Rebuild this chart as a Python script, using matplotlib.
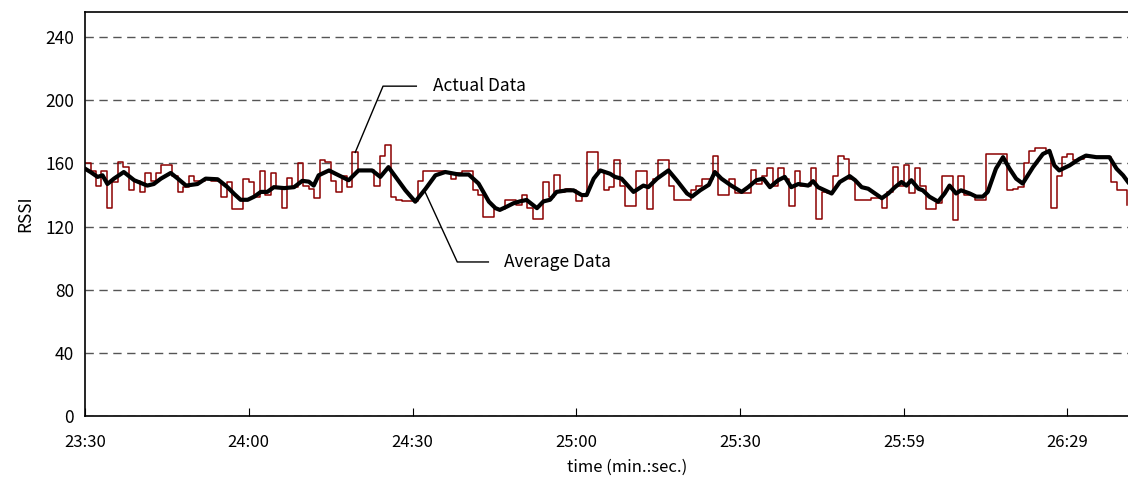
import numpy as np
import matplotlib
matplotlib.use('Agg')
import matplotlib.pyplot as plt

plt.rcParams['font.family'] = ['Noto Sans CJK JP', 'DejaVu Sans']

# RSSI sampled once a second, starting at 23:30
actual = [
  160, 155, 146, 155, 132, 148, 161, 158, 143, 149,
  142, 154, 149, 154, 159, 159, 152, 142, 145, 152,
  149, 149, 150, 149, 149, 139, 148, 131, 131, 150,
  148, 139, 155, 140, 154, 145, 132, 151, 145,
  160, 146, 144, 138, 162, 161, 149, 142, 152, 145,
  167, 156, 156, 156, 146, 165, 172, 139, 137, 136,
  136, 136, 149, 155, 155, 155, 155, 154, 150, 154,
  155, 155, 143, 140, 126, 126, 131, 131,
  137, 137, 134, 140, 132, 125, 125, 148, 139, 153,
  142, 144, 143, 136, 140, 167, 167, 155, 143, 145,
  162, 146, 133, 133, 155, 155, 131, 150, 162, 162,
  146, 137, 137, 137, 143, 146, 150, 150,
  165, 140, 140, 150, 141, 141, 141, 156, 147, 152,
  157, 146, 157, 150, 133, 155, 146, 146, 157, 125,
  142, 141, 152, 165, 163, 150, 137, 137, 137, 138,
  138, 132, 142, 158, 146, 159, 141, 157,
  146, 131, 131, 135, 152, 152, 124, 152, 140, 140,
  137, 137, 166, 166, 166, 166, 143, 144, 145, 160,
  168, 170, 170, 167, 132, 152, 164, 166, 162, 163,
  164, 164, 164, 164, 164, 148, 143, 143, 134,
]

# averaged curve (seconds from 23:30, RSSI)
avg_t = [
  0, 1.0, 2.3, 3.2, 4.1, 5.3, 7.1, 9.0, 11.4, 12.6, 13.9, 15.7, 17.0, 18.5,
  20.6, 22.1, 24.3, 26.1, 27.3, 28.5, 29.8, 31.0, 32.2, 33.4, 34.6, 36.5,
  38.3, 39.8, 41.0, 41.9, 42.8, 44.7, 45.9, 48.3, 50.1, 52.6, 54.1, 55.6,
  56.9, 58.7, 60.5, 62.4, 64.2, 66.0, 68.5, 70.3, 72.1, 74.0, 75.2, 76.0,
  77.3, 78.5, 79.7, 80.9, 82.8, 84.0, 85.2, 86.4, 88.3, 89.5, 91.0, 91.9,
  93.2, 94.4, 96.2, 97.1, 98.3, 100.5, 102.3, 103.2, 104.8, 106.9, 108.4,
  110.3, 111.2, 112.7, 114.3, 115.4, 116.6, 118.4, 120.3, 121.5, 123.0,
  124.3, 125.5, 127.0, 128.2, 129.4, 130.7, 132.5, 133.4, 134.3, 136.8,
  138.3, 140.1, 141.1, 142.3, 143.5, 146.0, 147.2, 148.4, 149.6, 150.5,
  151.4, 152.7, 153.5, 154.7, 156.3, 157.5, 158.4, 159.6, 160.5, 162.1,
  163.3, 164.5, 165.4, 166.9, 168.2, 169.4, 170.6, 171.8, 173.7, 175.5,
  176.7, 177.6, 178.5, 180.4, 182.2, 183.4, 185.3, 187.7, 189.0, 190.2, 191.1,
]
avg_v = [
  156.7, 154.6, 151.5, 152.5, 147, 150.4, 154.6, 149.4, 146, 147, 150.4, 154, 150.4, 146,
  147, 150.4, 150, 145, 140.8, 137, 137, 139, 142, 142, 145, 144.4,
  145, 149, 148.5, 146, 152.5, 155.6, 153.5, 149.4, 155.6, 155.6, 151.5, 157.7,
  151.5, 143, 135.8, 144, 152.5, 154.6, 153, 153, 147.3, 135.8, 131.7, 130.6,
  132.7, 134.8, 136, 136.9, 131.7, 136, 137, 142, 143, 143, 140, 140,
  150.4, 155.6, 153.5, 151.5, 150.4, 142, 146, 145, 150.4, 155.6, 149.4,
  141, 139, 143, 146.5, 154.6, 150.4, 146, 142, 145, 149.4,
  150.4, 145, 149.4, 151.5, 145, 147, 146, 148.8, 145, 141,
  148.3, 152, 149.4, 145, 144, 138, 141, 145, 148.3, 146,
  149.4, 144, 143, 139, 135.8, 141, 146, 141, 143, 141,
  139, 139, 142, 156.7, 164, 156.7, 150.4, 147.3, 157.7, 166,
  168, 158.8, 155.6, 158.8, 162.9, 165, 164, 164, 156.7, 152.5, 148.3,
]

tick_pos = [0, 30, 60, 90, 120, 150, 180]
tick_labels = ['23:30', '24:00', '24:30', '25:00', '25:30', '25:59', '26:29']
y_ticks = [0, 40, 80, 120, 160, 200, 240]

fig = plt.figure(figsize=(11.28, 4.83), dpi=100)
ax = fig.add_axes([0.0754, 0.1387, 0.9246, 0.8365])

ax.plot(np.arange(len(actual)), actual, color='#8b0000', lw=1.1, drawstyle='steps-post')
ax.plot(avg_t, avg_v, color='black', lw=3)

ax.set_xlim(0, 191.1)
ax.set_ylim(0, 256)
ax.set_yticks(y_ticks)
ax.set_xticks(tick_pos)
ax.set_xticklabels(tick_labels, fontsize=12)
ax.tick_params(axis='x', direction='in', length=6, pad=13)
ax.tick_params(axis='y', length=0, labelsize=12.5, pad=8)
ax.yaxis.grid(True, linestyle=(0, (6, 4)), color='#555555', lw=1)
ax.spines['right'].set_visible(False)
for s in ['left', 'bottom', 'top']:
  ax.spines[s].set_linewidth(1.2)

ax.set_ylabel('RSSI', fontsize=12.5, labelpad=8)
ax.set_xlabel('time (min.:sec.)', fontsize=12)
ax.xaxis.set_label_coords(0.52, -0.105)

# leader lines for the labels
ax.plot([49.5, 54.6, 60.7], [167, 209, 209], color='black', lw=1)
ax.text(63.8, 209, 'Actual Data', fontsize=12.5, va='center')
ax.plot([62.3, 68.2, 73.9], [142, 97.6, 97.6], color='black', lw=1)
ax.text(76.8, 97.6, 'Average Data', fontsize=12.5, va='center')

plt.savefig('out.png')
